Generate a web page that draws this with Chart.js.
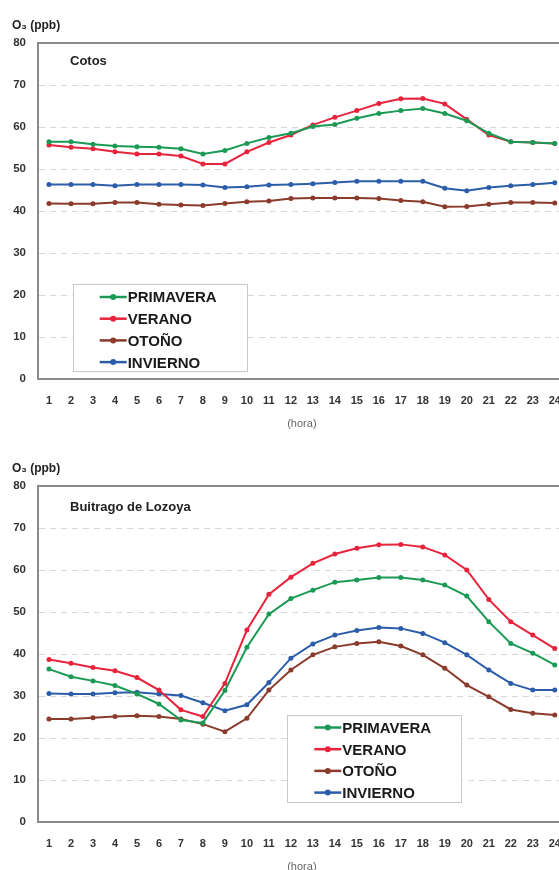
<!DOCTYPE html>
<html>
<head>
<meta charset="utf-8">
<script src="https://cdn.jsdelivr.net/npm/chart.js@4/dist/chart.umd.min.js"></script>
<style>
html,body{margin:0;padding:0;background:#fff;overflow:hidden;width:559px;height:870px;position:relative;}
.wrap{position:absolute;left:0;width:576px;height:444px;}
</style>
</head>
<body>
<div class="wrap" style="top:0px"><canvas id="c1"></canvas></div>
<div class="wrap" style="top:443px"><canvas id="c2"></canvas></div>
<script>
// ---------- data ----------
const hourLabels = ['1','2','3','4','5','6','7','8','9','10','11','12','13','14','15','16','17','18','19','20','21','22','23','24'];
const seasonNames = ['PRIMAVERA', 'VERANO', 'OTOÑO', 'INVIERNO'];
const stationNames = ['Cotos', 'Buitrago de Lozoya'];
const yAxisLabel = 'O₃ (ppb)';
const xAxisLabel = '(hora)';
const yMin = 0, yMax = 80, yStep = 10;

const cotosPrimavera = [56.5, 56.5, 55.9, 55.5, 55.3, 55.2, 54.8, 53.6, 54.4, 56.1, 57.5, 58.5, 60.1, 60.6, 62.1, 63.2, 63.9, 64.4, 63.2, 61.5, 58.5, 56.5, 56.3, 56.1];
const cotosVerano    = [55.7, 55.2, 54.8, 54.1, 53.6, 53.6, 53.1, 51.2, 51.2, 54.1, 56.3, 58.1, 60.5, 62.3, 63.9, 65.6, 66.7, 66.8, 65.5, 61.8, 58.1, 56.5, 56.3, 56.1];
const cotosOtono     = [41.8, 41.7, 41.7, 42.0, 42.0, 41.6, 41.4, 41.3, 41.8, 42.2, 42.4, 43.0, 43.1, 43.1, 43.1, 43.0, 42.5, 42.2, 41.0, 41.1, 41.6, 42.0, 42.0, 41.9];
const cotosInvierno  = [46.3, 46.3, 46.3, 46.0, 46.3, 46.3, 46.3, 46.2, 45.6, 45.8, 46.2, 46.3, 46.5, 46.8, 47.1, 47.1, 47.1, 47.1, 45.4, 44.8, 45.6, 46.0, 46.3, 46.7];

const buitPrimavera = [36.4, 34.6, 33.6, 32.5, 30.5, 28.1, 24.3, 23.6, 31.3, 41.6, 49.5, 53.2, 55.2, 57.1, 57.6, 58.2, 58.2, 57.6, 56.4, 53.8, 47.7, 42.5, 40.2, 37.4];
const buitVerano    = [38.7, 37.8, 36.8, 36.0, 34.4, 31.4, 26.7, 25.1, 33.0, 45.7, 54.2, 58.3, 61.6, 63.8, 65.2, 66.0, 66.1, 65.5, 63.6, 60.0, 53.0, 47.7, 44.5, 41.3];
const buitOtono     = [24.5, 24.5, 24.8, 25.1, 25.3, 25.1, 24.5, 23.3, 21.5, 24.7, 31.4, 36.2, 39.8, 41.7, 42.5, 42.9, 41.9, 39.8, 36.6, 32.6, 29.8, 26.8, 25.9, 25.5];
const buitInvierno  = [30.6, 30.5, 30.5, 30.8, 30.9, 30.5, 30.1, 28.4, 26.5, 27.9, 33.2, 39.0, 42.4, 44.5, 45.6, 46.3, 46.1, 44.9, 42.7, 39.8, 36.2, 33.0, 31.4, 31.4];

// ---------- styles ----------
const seasonColors = ['#1b9a55', '#e8243c', '#8b3b2b', '#2b5da8'];
const FONT = '"Liberation Sans", Arial, Helvetica, sans-serif';

const decor = {
  id: 'decor',
  afterDatasetsDraw(chart, args, o) {
    const {ctx, chartArea: a} = chart;
    ctx.save();
    ctx.strokeStyle = '#8a8a8a';
    ctx.lineWidth = 2;
    ctx.beginPath(); ctx.moveTo(a.left - 1, a.top); ctx.lineTo(a.right, a.top); ctx.stroke();
    ctx.textAlign = 'left';
    ctx.textBaseline = 'alphabetic';
    ctx.fillStyle = '#222';
    ctx.font = 'bold 13px ' + FONT;
    ctx.fillText(o.station, a.left + o.stDX, a.top + o.stDY);
    ctx.font = 'bold 12px ' + FONT;
    ctx.fillStyle = '#222';
    ctx.fillText(o.yLabel, 12, 28.5);
    const bx = a.left + o.legDX, by = a.top + o.legDY;
    ctx.fillStyle = '#fff';
    ctx.fillRect(bx, by, 174, 87);
    ctx.strokeStyle = '#c8c8c8';
    ctx.lineWidth = 1;
    ctx.strokeRect(Math.round(bx) + 0.5, Math.round(by) + 0.5, 174, 87);
    chart.data.datasets.forEach((ds, i) => {
      const cy = by + 13 + i * 21.7;
      ctx.strokeStyle = ds.borderColor;
      ctx.lineWidth = 2.5;
      ctx.beginPath(); ctx.moveTo(bx + 27, cy); ctx.lineTo(bx + 54, cy); ctx.stroke();
      ctx.fillStyle = ds.borderColor;
      ctx.beginPath(); ctx.arc(bx + 40.5, cy, 3, 0, Math.PI * 2); ctx.fill();
      ctx.fillStyle = '#1a1a1a';
      ctx.font = 'bold 15px ' + FONT;
      ctx.fillText(ds.label, bx + 55, cy + 5.4);
    });
    ctx.restore();
  }
};

function makeChart(id, series, station, legDX, legDY, stDY) {
  return new Chart(document.getElementById(id), {
    type: 'line',
    data: {
      labels: hourLabels,
      datasets: series.map((vals, i) => ({
        label: seasonNames[i],
        data: vals,
        borderColor: seasonColors[i],
        backgroundColor: seasonColors[i],
        borderWidth: 2,
        pointRadius: 2.5,
        pointHoverRadius: 2.5,
        pointBorderWidth: 0,
        pointBackgroundColor: seasonColors[i],
        tension: 0,
        fill: false
      }))
    },
    options: {
      responsive: true,
      maintainAspectRatio: false,
      animation: false,
      devicePixelRatio: 1,
      layout: {padding: {top: 43, left: 0, right: 6, bottom: 0}},
      plugins: {
        legend: {display: false},
        tooltip: {enabled: false},
        decor: {station: station, yLabel: yAxisLabel, legDX: legDX, legDY: legDY, stDX: 32, stDY: stDY}
      },
      scales: {
        x: {
          type: 'category',
          offset: true,
          grid: {display: false, drawTicks: false},
          border: {display: true, color: '#8a8a8a', width: 2},
          ticks: {color: '#333', font: {family: FONT, size: 11, weight: 'bold'}, padding: 15, maxRotation: 0, autoSkip: false},
          title: {display: true, text: xAxisLabel, color: '#666', font: {family: FONT, size: 11}, padding: {top: 0, bottom: 13}},
          afterFit: s => { s.height = 65; }
        },
        y: {
          min: yMin,
          max: yMax,
          ticks: {stepSize: yStep, color: '#333', font: {family: FONT, size: 11.5, weight: 'bold'}, padding: 12},
          grid: {
            drawTicks: false,
            lineWidth: 1,
            color: c => (c.tick && (c.tick.value === yMin || c.tick.value === yMax)) ? 'rgba(0,0,0,0)' : '#d6d6d6'
          },
          border: {display: true, color: '#8a8a8a', width: 2, dash: [6, 5]},
          afterFit: s => { s.width = 38; }
        }
      }
    },
    plugins: [decor]
  });
}

makeChart('c1', [cotosPrimavera, cotosVerano, cotosOtono, cotosInvierno], stationNames[0], 34.7, 241, 22);
makeChart('c2', [buitPrimavera, buitVerano, buitOtono, buitInvierno], stationNames[1], 249.3, 228.5, 25);
</script>
</body>
</html>
